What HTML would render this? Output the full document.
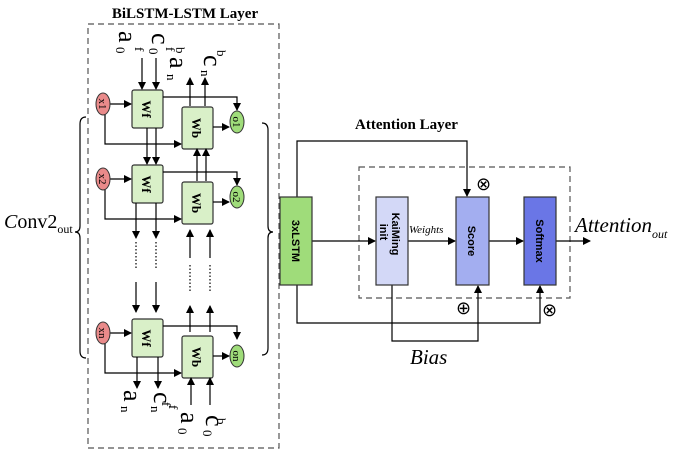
<!DOCTYPE html>
<html><head><style>body{margin:0;background:#fff}svg{display:block}</style></head><body>
<svg width="685" height="454" viewBox="0 0 685 454" xmlns="http://www.w3.org/2000/svg" font-family="Liberation Serif, serif">
<defs>
<marker id="a" markerWidth="8" markerHeight="8" refX="7" refY="4" orient="auto" markerUnits="userSpaceOnUse"><path d="M0,0 L8,4 L0,8 z" fill="#000"/></marker>
<g id="cell">
  <rect x="132" y="90" width="31" height="38" fill="#d9f0c8" stroke="#333" stroke-width="1.2" rx="2"/>
  <rect x="182" y="107" width="31" height="42" fill="#d9f0c8" stroke="#333" stroke-width="1.2" rx="2"/>
  <text transform="translate(142,109) rotate(90)" font-size="13" font-weight="bold" text-anchor="middle">Wf</text>
  <text transform="translate(192,128) rotate(90)" font-size="13" font-weight="bold" text-anchor="middle">Wb</text>
  <path d="M110,104 H131" stroke="#000" stroke-width="1.2" fill="none" marker-end="url(#a)"/>
  <path d="M105,114 V144 H181" stroke="#000" stroke-width="1.2" fill="none" marker-end="url(#a)"/>
  <path d="M163,97 H237 V110" stroke="#000" stroke-width="1.2" fill="none" marker-end="url(#a)"/>
  <path d="M213,127 H229" stroke="#000" stroke-width="1.2" fill="none" marker-end="url(#a)"/>
</g>
</defs>
<text x="185" y="18" font-size="15" font-weight="bold" text-anchor="middle">BiLSTM-LSTM Layer</text>
<rect x="88" y="24" width="191" height="424" fill="none" stroke="#555" stroke-width="1.2" stroke-dasharray="6,4"/>
<use href="#cell"/>
<use href="#cell" y="75"/>
<use href="#cell" y="229"/>
<g stroke="#333" stroke-width="1">
<ellipse cx="103" cy="104" rx="7" ry="11" fill="#e98a8a"/>
<ellipse cx="103" cy="179" rx="7" ry="11" fill="#e98a8a"/>
<ellipse cx="103" cy="333" rx="7" ry="11" fill="#e98a8a"/>
<ellipse cx="237" cy="122" rx="7" ry="11" fill="#9fdc7a"/>
<ellipse cx="237" cy="197" rx="7" ry="11" fill="#9fdc7a"/>
<ellipse cx="237" cy="356" rx="7" ry="11" fill="#9fdc7a"/>
</g>
<g font-size="11" text-anchor="middle">
<text transform="translate(99,104) rotate(90)">x1</text>
<text transform="translate(99,179) rotate(90)">x2</text>
<text transform="translate(99,333) rotate(90)">xn</text>
<text transform="translate(233,122) rotate(90)">o1</text>
<text transform="translate(233,197) rotate(90)">o2</text>
<text transform="translate(233,356) rotate(90)">on</text>
</g>
<g stroke="#000" stroke-width="1.2" fill="none">
<path d="M142,58 V89" marker-end="url(#a)"/><path d="M156,58 V89" marker-end="url(#a)"/>
<path d="M190,106 V78" marker-end="url(#a)"/><path d="M205,106 V78" marker-end="url(#a)"/>
<path d="M147,128 V164" marker-end="url(#a)"/><path d="M156,128 V164" marker-end="url(#a)"/>
<path d="M197,181 V149" marker-end="url(#a)"/><path d="M206,181 V149" marker-end="url(#a)"/>
<path d="M136,203 V238" marker-end="url(#a)"/><path d="M156,203 V238" marker-end="url(#a)"/>
<path d="M136,282 V312" marker-end="url(#a)"/><path d="M156,282 V312" marker-end="url(#a)"/>
<path d="M190,258 V230" marker-end="url(#a)"/><path d="M210,258 V230" marker-end="url(#a)"/>
<path d="M190,332 V306" marker-end="url(#a)"/><path d="M210,332 V306" marker-end="url(#a)"/>
<path d="M137,357 V388" marker-end="url(#a)"/><path d="M158,357 V388" marker-end="url(#a)"/>
<path d="M191,405 V378" marker-end="url(#a)"/><path d="M210,405 V378" marker-end="url(#a)"/>
</g>
<g stroke="#000" stroke-width="1.2" stroke-dasharray="1.5,2">
<path d="M136,242 V268"/><path d="M156,242 V268"/>
<path d="M190,265 V292"/><path d="M210,265 V292"/>
</g>
<!-- top labels -->
<g font-size="26">
<text transform="translate(119,31) rotate(90)">a</text>
<text transform="translate(152,33) rotate(90)">c</text>
<text transform="translate(170,57) rotate(90)">a</text>
<text transform="translate(204,55) rotate(90)">c</text>
<text transform="translate(124,390) rotate(90)">a</text>
<text transform="translate(154,392) rotate(90)">c</text>
<text transform="translate(181,412) rotate(90)">a</text>
<text transform="translate(206,415) rotate(90)">c</text>
</g>
<g font-size="13">
<text transform="translate(116,47) rotate(90)">0</text>
<text transform="translate(135,47) rotate(90)">f</text>
<text transform="translate(149,48) rotate(90)">0</text>
<text transform="translate(166,47) rotate(90)">f</text>
<text transform="translate(176,47) rotate(90)">b</text>
<text transform="translate(167,74) rotate(90)">n</text>
<text transform="translate(201,70) rotate(90)">n</text>
<text transform="translate(217,50) rotate(90)">b</text>
<text transform="translate(121,406) rotate(90)">n</text>
<text transform="translate(151,406) rotate(90)">n</text>
<text transform="translate(162,402) rotate(90)">f</text>
<text transform="translate(169,405) rotate(90)">f</text>
<text transform="translate(178,428) rotate(90)">0</text>
<text transform="translate(203,430) rotate(90)">0</text>
<text transform="translate(217,418) rotate(90)">b</text>
</g>
<path d="M86,117 Q80,117 80,124 V226 Q80,232 75,232 Q80,232 80,238 V351 Q80,358 86,358" fill="none" stroke="#000" stroke-width="1.2"/>
<path d="M262,123 Q268,123 268,130 V226 Q268,232 273,232 Q268,232 268,238 V348 Q268,355 262,355" fill="none" stroke="#000" stroke-width="1.2"/>
<text x="4" y="228" font-size="20"><tspan font-style="italic">C</tspan>onv2<tspan font-size="12" dy="5">out</tspan></text>
<text x="355" y="129" font-size="15" font-weight="bold">Attention Layer</text>
<rect x="359" y="167" width="211" height="131" fill="none" stroke="#555" stroke-width="1.2" stroke-dasharray="6,4"/>
<g stroke="#000" stroke-width="1.2" fill="none">
<path d="M297,197 V141 H467 V196" marker-end="url(#a)"/>
<path d="M312,241 H375" marker-end="url(#a)"/>
<path d="M408,241 H455" marker-end="url(#a)"/>
<path d="M489,241 H523" marker-end="url(#a)"/>
<path d="M556,241 H590" marker-end="url(#a)"/>
<path d="M297,285 V323 H540 V286" marker-end="url(#a)"/>
<path d="M392,285 V341 H478 V286" marker-end="url(#a)"/>
</g>
<rect x="280" y="197" width="32" height="88" fill="#9fdc7a" stroke="#333" stroke-width="1.2"/>
<rect x="376" y="197" width="32" height="88" fill="#d3d8f7" stroke="#333" stroke-width="1.2"/>
<rect x="456" y="197" width="33" height="88" fill="#a3aef0" stroke="#333" stroke-width="1.2"/>
<rect x="524" y="197" width="32" height="88" fill="#6a76e6" stroke="#333" stroke-width="1.2"/>
<g font-family="Liberation Sans, sans-serif" font-size="11" font-weight="bold" text-anchor="middle">
<text transform="translate(292,241) rotate(90)">3xLSTM</text>
<text transform="translate(392,234) rotate(90)">KaiMing</text>
<text transform="translate(380,232) rotate(90)">init</text>
<text transform="translate(468,241) rotate(90)">Score</text>
<text transform="translate(536,241) rotate(90)">Softmax</text>
</g>
<text x="409" y="233" font-size="11" font-style="italic">Weights</text>
<g font-size="18"><text x="476" y="190">⊗</text><text x="456" y="314">⊕</text><text x="542" y="316">⊗</text></g>
<text x="575" y="232" font-size="21" font-style="italic">Attention<tspan font-size="12" dy="6">out</tspan></text>
<text x="410" y="364" font-size="21" font-style="italic">Bias</text>
</svg>
</body></html>
